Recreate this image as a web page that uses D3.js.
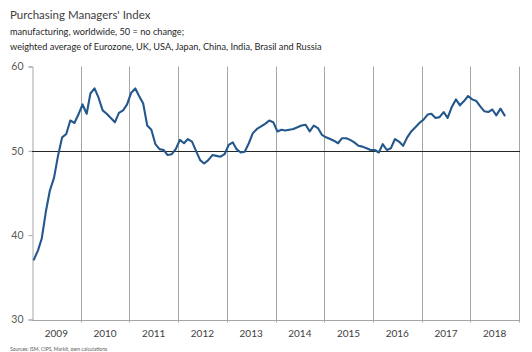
<!DOCTYPE html>
<html>
<head>
<meta charset="utf-8">
<script src="https://d3js.org/d3.v7.min.js"></script>
<style>
  html, body { margin: 0; padding: 0; background: #fff; }
  svg { display: block; font-family: Lato, "Open Sans", sans-serif; }
</style>
</head>
<body>
<div id="chart"></div>
<script>
// ||================================||
// || DATA                           ||
// ||================================||

// monthly readings, Jan 2009 onwards
var startMonth = new Date(2009, 0, 1);

var pmiValues = [
  37.1, 38.2, 39.6, 42.8, 45.3, 46.8, 49.4, 51.6, 52.0, 53.6, 53.3, 54.3,
  55.5, 54.4, 56.8, 57.4, 56.3, 54.8, 54.4, 53.9, 53.4, 54.5, 54.8, 55.5,
  56.9, 57.4, 56.5, 55.6, 53.0, 52.5, 50.8, 50.2, 50.1, 49.5, 49.6, 50.2,
  51.3, 50.9, 51.4, 51.1, 50.0, 48.9, 48.5, 48.9, 49.5, 49.4, 49.3, 49.6,
  50.7, 51.0, 50.2, 49.8, 49.9, 50.9, 52.1, 52.6, 52.9, 53.2, 53.6, 53.4,
  52.3, 52.5, 52.4, 52.5, 52.6, 52.8, 53.0, 53.1, 52.3, 53.0, 52.7, 51.9,
  51.6, 51.4, 51.2, 50.9, 51.5, 51.5, 51.3, 51.0, 50.6, 50.5, 50.3, 50.1,
  50.1, 49.8, 50.8, 50.1, 50.3, 51.4, 51.1, 50.6, 51.6, 52.3, 52.8, 53.3,
  53.7, 54.3, 54.4, 53.9, 54.0, 54.6, 53.9, 55.2, 56.1, 55.4, 55.9, 56.5,
  56.1, 55.9, 55.3, 54.7, 54.6, 54.9, 54.2, 55.0, 54.2
];

var years = [2009, 2010, 2011, 2012, 2013, 2014, 2015, 2016, 2017, 2018];
var yTicks = [30, 40, 50, 60];

var titleText = "Purchasing Managers' Index";
var subtitleLines = [
  "manufacturing, worldwide, 50 = no change;",
  "weighted average of Eurozone, UK, USA, Japan, China, India, Brasil and Russia"
];
var sourceText = "Sources: ISM, CIPS, Markit, own calculations";

var series = pmiValues.map(function(v, i) {
  return { date: new Date(2009, i, 15), value: v };
});

// ||================================||
// || CHART                          ||
// ||================================||

var width = 532,
    height = 352;

var svg = d3.select("#chart")
  .append("svg")
    .attr("width", width)
    .attr("height", height);

var x = d3.scaleTime()
    .domain([startMonth, new Date(2019, 0, 1)])
    .range([32, 519]);

var y = d3.scaleLinear()
    .domain([30, 60])
    .range([319.5, 66.5]);

// headings
svg.append("text")
    .attr("x", 10)
    .attr("y", 19)
    .attr("font-size", 11.5)
    .attr("fill", "#404040")
    .text(titleText);

svg.selectAll(".subtitle")
  .data(subtitleLines)
  .enter().append("text")
    .attr("class", "subtitle")
    .attr("x", 10)
    .attr("y", function(d, i) { return 35 + i * 14.5; })
    .attr("font-size", 9.2)
    .attr("fill", "#262626")
    .text(function(d) { return d; });

// year separators, running a few px below the axis as ticks
var yearBounds = years.concat([2019]);

svg.append("g")
    .attr("class", "year-lines")
  .selectAll("line")
  .data(yearBounds.slice(1))
  .enter().append("line")
    .attr("x1", function(d) { return Math.round(x(new Date(d, 0, 1))) + 0.5; })
    .attr("x2", function(d) { return Math.round(x(new Date(d, 0, 1))) + 0.5; })
    .attr("y1", y(60))
    .attr("y2", y(30) + 3)
    .attr("stroke", "#a6a6a6")
    .attr("stroke-width", 1);

// x baseline
svg.append("line")
    .attr("x1", x(startMonth))
    .attr("x2", x(new Date(2019, 0, 1)) + 1)
    .attr("y1", Math.round(y(30)) + 0.5)
    .attr("y2", Math.round(y(30)) + 0.5)
    .attr("stroke", "#a6a6a6");

// y axis
var yAxis = svg.append("g")
    .attr("transform", "translate(" + (Math.round(x(startMonth)) + 0.5) + ",0)")
    .call(d3.axisLeft(y).tickValues(yTicks).tickSize(4).tickPadding(5));

yAxis.select(".domain").attr("stroke", "#a6a6a6");
yAxis.selectAll(".tick line").attr("stroke", "#a6a6a6");
yAxis.selectAll(".tick text")
    .attr("font-family", "Lato, 'Open Sans', sans-serif")
    .attr("font-size", 10.5)
    .attr("fill", "#595959");

// year labels centred in each year
svg.selectAll(".year-label")
  .data(years)
  .enter().append("text")
    .attr("class", "year-label")
    .attr("x", function(d) { return (x(new Date(d, 0, 1)) + x(new Date(d + 1, 0, 1))) / 2; })
    .attr("y", 337)
    .attr("text-anchor", "middle")
    .attr("font-size", 10)
    .attr("fill", "#404040")
    .text(function(d) { return d; });

// no-change reference line at 50
svg.append("line")
    .attr("x1", x(startMonth))
    .attr("x2", x(new Date(2019, 0, 1)) + 1)
    .attr("y1", Math.round(y(50)) + 0.5)
    .attr("y2", Math.round(y(50)) + 0.5)
    .attr("stroke", "#262626")
    .attr("stroke-width", 1);

// index line
var line = d3.line()
    .x(function(d) { return x(d.date); })
    .y(function(d) { return y(d.value); });

svg.append("path")
    .datum(series)
    .attr("fill", "none")
    .attr("stroke", "#24578c")
    .attr("stroke-width", 2.1)
    .attr("stroke-linejoin", "round")
    .attr("stroke-linecap", "round")
    .attr("d", line);

// source note
svg.append("text")
    .attr("x", 10)
    .attr("y", 351)
    .attr("font-size", 5)
    .attr("fill", "#595959")
    .text(sourceText);
</script>
</body>
</html>
